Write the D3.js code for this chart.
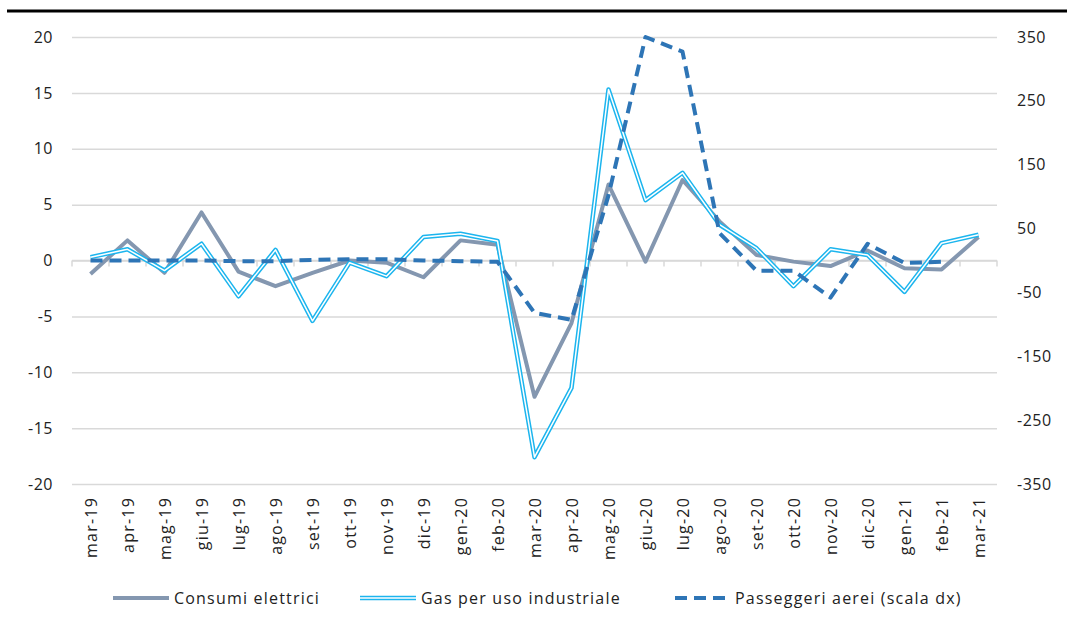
<!DOCTYPE html>
<html lang="en">
<head>
<meta charset="utf-8">
<title>Consumi</title>
<script src="https://cdn.jsdelivr.net/npm/d3@7"></script>
<style>
  body { margin: 0; background: #fff; }
  svg text { font-family: "Open Sans", "Liberation Sans", sans-serif; fill: #222; }
</style>
</head>
<body>
<div id="chart"></div>
<script>
const months = ["mar-19","apr-19","mag-19","giu-19","lug-19","ago-19","set-19","ott-19","nov-19","dic-19",
  "gen-20","feb-20","mar-20","apr-20","mag-20","giu-20","lug-20","ago-20","set-20","ott-20","nov-20","dic-20",
  "gen-21","feb-21","mar-21"];
const consumi = [-1.2, 1.8, -1.1, 4.3, -1.0, -2.3, -1.1, 0.0, -0.2, -1.5, 1.8, 1.4,
  -12.2, -5.6, 6.8, -0.1, 7.2, 3.5, 0.5, -0.1, -0.5, 0.9, -0.7, -0.8, 2.1];
const gas = [0.3, 1.0, -0.9, 1.5, -3.2, 0.95, -5.4, -0.2, -1.4, 2.1, 2.4, 1.75,
  -17.6, -11.4, 15.3, 5.4, 7.85, 3.2, 1.1, -2.3, 1.0, 0.5, -2.8, 1.55, 2.3];
const passeggeri = [0, 0, 0, 0, -1, -1, 1, 2, 2, 0, -1, -2,
  -82, -93, 102, 350, 327, 43, -16, -16, -58, 26, -4, -2, null];
const leftTicks = [-20, -15, -10, -5, 0, 5, 10, 15, 20];
const rightTicks = [-350, -250, -150, -50, 50, 150, 250, 350];
const legendNames = ["Consumi elettrici", "Gas per uso industriale", "Passeggeri aerei (scala dx)"];

const width = 1067, height = 626;
const mLeft = 72, mRight = 997, mTop = 37, mBottom = 484;
const fs = 16, ls = "1.2px";

const svg = d3.select("#chart").append("svg")
    .attr("width", width).attr("height", height);

// top rule
svg.append("line").attr("x1", 7).attr("x2", width).attr("y1", 11).attr("y2", 11)
    .attr("stroke", "#000").attr("stroke-width", 3);

const x = d3.scaleBand().domain(months).range([mLeft, mRight]);
const yL = d3.scaleLinear().domain([-20, 20]).range([mBottom, mTop]);
const yR = d3.scaleLinear().domain([-350, 350]).range([mBottom, mTop]);
const cx = m => x(m) + x.bandwidth() / 2;

// gridlines + left labels
svg.append("g").call(d3.axisLeft(yL).tickValues(leftTicks).tickFormat(d => String(d))
      .tickSize(-(mRight - mLeft)).tickPadding(19))
    .attr("transform", `translate(${mLeft},0)`)
    .call(g => g.select(".domain").remove())
    .call(g => g.selectAll(".tick line").attr("stroke", "#d9d9d9").attr("stroke-width", 1.5))
    .call(g => g.selectAll(".tick text").attr("font-size", fs).attr("letter-spacing", "0.5px").attr("fill", "#222"));

// right labels (own axis, no gridlines)
svg.append("g").call(d3.axisRight(yR).tickValues(rightTicks).tickFormat(d => String(d))
      .tickSize(0).tickPadding(20))
    .attr("transform", `translate(${mRight},0)`)
    .call(g => g.select(".domain").remove())
    .call(g => g.selectAll(".tick text").attr("font-size", fs).attr("letter-spacing", "0.5px").attr("fill", "#222"));

// category axis at zero
const y0 = yL(0);
svg.append("line").attr("x1", mLeft).attr("x2", mRight).attr("y1", y0).attr("y2", y0)
    .attr("stroke", "#d9d9d9").attr("stroke-width", 1.5);
svg.append("g").selectAll("line")
    .data(months.map(m => x(m)).concat([mRight]))
    .join("line")
    .attr("x1", d => d).attr("x2", d => d).attr("y1", y0).attr("y2", y0 + 6)
    .attr("stroke", "#d9d9d9").attr("stroke-width", 1.5);

svg.append("g").selectAll("text")
    .data(months)
    .join("text")
    .attr("transform", d => `translate(${cx(d) + 6},497) rotate(-90)`)
    .attr("text-anchor", "end")
    .attr("font-size", fs)
    .attr("letter-spacing", ls)
    .text(d => d);

// series
const lineL = d3.line().x((d, i) => cx(months[i])).y(d => yL(d));
const lineR = d3.line().defined(d => d != null).x((d, i) => cx(months[i])).y(d => yR(d));

svg.append("path").datum(consumi).attr("d", lineL)
    .attr("fill", "none").attr("stroke", "#8497b0").attr("stroke-width", 4).attr("stroke-linejoin", "round");

svg.append("path").datum(gas).attr("d", lineL)
    .attr("fill", "none").attr("stroke", "#1cb5ee").attr("stroke-width", 4.5).attr("stroke-linejoin", "round");
svg.append("path").datum(gas).attr("d", lineL)
    .attr("fill", "none").attr("stroke", "#fff").attr("stroke-width", 1.5).attr("stroke-linejoin", "round");

svg.append("path").datum(passeggeri).attr("d", lineR)
    .attr("fill", "none").attr("stroke", "#2e75b6").attr("stroke-width", 4)
    .attr("stroke-dasharray", "12,7").attr("stroke-linejoin", "round");

// legend
const legY = 598;
const leg = svg.append("g");
const legX = [113, 360, 675];
legendNames.forEach((name, i) => {
  const g = leg.append("g").attr("transform", `translate(${legX[i]},${legY})`);
  if (i === 0) {
    g.append("line").attr("x1", 0).attr("x2", 56).attr("stroke", "#8497b0").attr("stroke-width", 4);
  } else if (i === 1) {
    g.append("line").attr("x1", 0).attr("x2", 56).attr("stroke", "#1cb5ee").attr("stroke-width", 4.5);
    g.append("line").attr("x1", 0).attr("x2", 56).attr("stroke", "#fff").attr("stroke-width", 1.5);
  } else {
    g.append("line").attr("x1", 0).attr("x2", 52).attr("stroke", "#2e75b6").attr("stroke-width", 4)
      .attr("stroke-dasharray", "12,7");
  }
  g.append("text").attr("x", i === 2 ? 60 : 61).attr("y", 5.5).attr("font-size", fs)
    .attr("letter-spacing", ls).text(name);
});
</script>
</body>
</html>
